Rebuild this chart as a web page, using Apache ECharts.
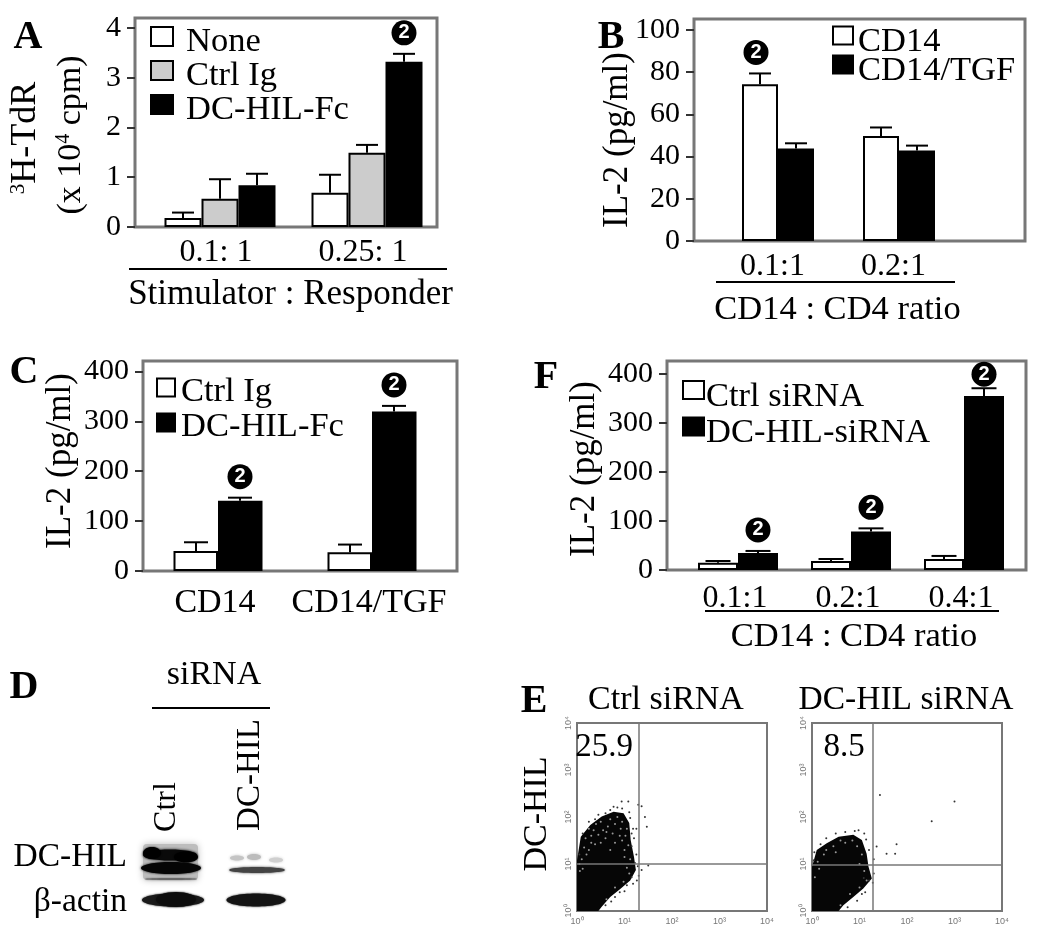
<!DOCTYPE html>
<html><head><meta charset="utf-8">
<style>html,body{margin:0;padding:0;background:#fff}#c{width:1050px;height:933px}</style>
<script src="https://cdn.jsdelivr.net/npm/echarts@6/dist/echarts.min.js"></script>
</head><body><div id="c"></div>
<script>
// ---------- Panel A ----------
const catsA = ['0.1: 1', '0.25: 1'];
const yTicksA = [0, 1, 2, 3, 4];
const noneA = [0.18, 0.69];
const noneTopA = [0.29, 1.05];
const ctrlA = [0.57, 1.49];
const ctrlTopA = [0.96, 1.65];
const dcA = [0.84, 3.32];
const dcTopA = [1.07, 3.48];
// ---------- Panel B ----------
const catsB = ['0.1:1', '0.2:1'];
const yTicksB = [0, 20, 40, 60, 80, 100];
const cd14B = [74.3, 49.8];
const cd14TopB = [79.4, 53.8];
const tgfB = [43.8, 42.9];
const tgfTopB = [46.3, 45.2];
// ---------- Panel C ----------
const catsC = ['CD14', 'CD14/TGF'];
const yTicksC = [0, 100, 200, 300, 400];
const ctrlC = [40, 37.5];
const ctrlTopC = [57.6, 53];
const dcC = [141, 320];
const dcTopC = [147, 331];
// ---------- Panel F ----------
const catsF = ['0.1:1', '0.2:1', '0.4:1'];
const yTicksF = [0, 100, 200, 300, 400];
const ctrlF = [15, 18.4, 22.5];
const ctrlTopF = [18.4, 22.5, 28.7];
const dcF = [34.8, 78.5, 355];
const dcTopF = [38.9, 85, 371];
// ---------- Panel E (flow plots, log10 intensity) ----------
const flowTicks = ['10⁰', '10¹', '10²', '10³', '10⁴'];
const ctrlOuter = [[0,0],[0,1.08],[0.08,1.58],[0.28,1.83],[0.52,2.01],[0.77,2.11],[0.98,2.08],[1.10,1.87],[1.13,1.51],[1.20,1.15],[1.24,0.87],[1.12,0.65],[0.91,0.47],[0.70,0.30],[0.52,0.09],[0.45,0]];
const ctrlStray = [[1.29,2.26],[1.36,2.23],[1.43,2.0],[1.47,1.79],[1.36,0.87],[1.5,0.97],[1.26,0.65],[1.08,2.33],[0.94,2.33],[0.77,2.22],[1.12,1.98],[1.2,1.55],[1.18,1.75],[0.95,2.18],[0.7,2.15],[0.45,2.05],[0.25,1.9],[0.12,1.65],[1.25,1.2],[1.28,0.95],[1.18,0.58],[1.0,0.42],[0.8,0.3],[0.6,0.12],[0.85,2.2],[1.15,1.38],[1.1,2.1],[1.25,1.75],[1.3,0.75],[0.05,1.2],[0.38,1.95],[0.6,2.08],[1.15,1.65],[1.05,0.55],[0.9,0.4],[0.72,0.2],[1.22,1.02],[1.15,0.72]];
const ctrlHoles = [[0.3,1.45],[0.45,1.62],[0.6,1.55],[0.75,1.65],[0.9,1.6],[0.2,1.2],[0.5,1.45],[0.8,1.45],[1.0,1.3],[0.12,0.9],[0.25,1.75],[0.95,1.9],[1.05,0.92],[0.3,1.6],[0.65,1.8],[0.15,1.35],[0.06,0.85],[0.55,1.72],[0.92,1.75],[1.02,1.6],[0.4,1.85],[0.7,1.95],[0.85,2.0],[1.05,1.75],[1.08,1.4],[0.18,1.55],[0.38,1.42],[1.12,1.1],[1.1,0.8],[0.98,0.62],[0.8,0.5],[0.62,0.25],[0.1,1.1],[0.25,1.3],[0.7,1.3],[0.5,1.9],[0.8,1.85],[0.95,1.5],[1.0,1.15],[0.05,1.0],[0.62,1.68],[0.35,1.72]];
const dcOuter = [[0,0],[0,0.94],[0.10,1.30],[0.31,1.44],[0.56,1.58],[0.87,1.62],[1.05,1.51],[1.15,1.22],[1.19,0.94],[1.26,0.69],[1.08,0.48],[0.87,0.30],[0.66,0.12],[0.56,0]];
const dcStray = [[1.09,0.7],[1.2,0.65],[1.3,1.1],[1.78,1.42],[1.43,2.47],[3.0,2.33],[2.52,1.91],[1.36,1.37],[1.57,1.22],[1.75,1.22],[0.05,1.25],[0.18,1.42],[1.2,1.3],[1.14,1.52],[1.1,1.65],[0.9,1.7],[0.7,1.68],[0.5,1.65],[0.3,1.55],[1.3,0.8],[1.28,0.6],[1.12,0.4],[0.95,0.22],[0.75,0.08],[1.05,0.36],[0.04,1.08],[0.98,1.72]];
const dcHoles = [[0.25,1.2],[0.12,1.05],[0.45,1.38],[0.7,1.45],[0.95,1.38],[1.05,1.2],[0.06,0.72],[1.1,0.85],[1.15,0.65],[0.6,1.5],[0.85,1.5],[0.3,1.3],[1.0,0.5],[0.8,0.36],[0.6,0.12],[0.15,0.9],[0.5,1.25],[1.0,1.0]];

const SERIF = '"Liberation Serif", "Times New Roman", serif';
const grid = [], xAxis = [], yAxis = [], legend = [], series = [], graphic = [];
const FRAME = '#777', TICK = '#333';

function txt(text, x, y, size, opt) {
  opt = opt || {};
  graphic.push({
    type: 'text', x: x, y: y, rotation: opt.rot || 0, z: 50,
    style: { text: text, fill: '#000', align: opt.align || 'center', verticalAlign: 'middle',
      font: (opt.bold ? 'bold ' : '') + size + 'px ' + SERIF, rich: opt.rich }
  });
}
function rule(x1, x2, y) {
  graphic.push({ type: 'line', shape: { x1: x1, y1: y, x2: x2, y2: y }, style: { stroke: '#000', lineWidth: 2 }, z: 50 });
}

function barPanel(p) {
  const g = grid.length, n = p.bars.length;
  const slot = p.centers[1] - p.centers[0];
  const left = p.centers[0] - slot / 2, width = slot * p.cats.length;
  const ls = p.labelShift, ns = p.nameShift || 0;
  grid.push({ left: left, top: p.frame[1], width: width, height: p.frame[3] - p.frame[1] });
  graphic.push({ type: 'rect', shape: { x: p.frame[0], y: p.frame[1], width: p.frame[2] - p.frame[0], height: p.frame[3] - p.frame[1] },
    style: { fill: 'none', stroke: FRAME, lineWidth: 3 }, z: -1 });
  xAxis.push({ gridIndex: g, type: 'category', data: p.cats, axisLine: { show: false }, axisTick: { show: false }, position: 'bottom',
    axisLabel: { margin: p.labelMargin, fontFamily: SERIF, fontSize: p.labelSize || 32, color: '#000', interval: 0, padding: [0, -2 * ls, 0, 0] },
    name: p.xName, nameLocation: 'middle', nameGap: p.nameGap,
    nameTextStyle: { fontFamily: SERIF, fontSize: p.nameSize || 34.5, color: '#000', padding: ns < 0 ? [0, -2 * ns, 0, 0] : [0, 0, 0, 2 * ns] } });
  yAxis.push({ gridIndex: g, type: 'value', min: 0, max: p.yMax, offset: left - p.frame[0], position: 'left', splitLine: { show: false }, axisLine: { show: false },
    axisTick: { show: true, length: 8, lineStyle: { color: TICK, width: 2 }, customValues: p.yTicks },
    axisLabel: { margin: 14, fontFamily: SERIF, fontSize: 30, color: '#000', customValues: p.yTicks } });
  legend.push({ left: p.legendAt[0], top: p.legendAt[1], orient: 'vertical', selectedMode: false, padding: 0, itemGap: p.legendGap,
    itemWidth: p.swatch[0], itemHeight: p.swatch[1],
    formatter: (name) => '{a|' + name + '}',
    textStyle: { fontFamily: SERIF, fontSize: 34.5, color: '#000',
      rich: { a: { fontFamily: SERIF, fontSize: 34.5, color: '#000', lineHeight: 36, padding: p.legendPad } } },
    data: p.bars.map(b => ({ name: b.name, icon: 'rect', itemStyle: { color: b.color, borderColor: '#000', borderWidth: 2 } })) });
  p.bars.forEach((b, i) => {
    series.push({ type: 'bar', name: b.name, xAxisIndex: g, yAxisIndex: g, data: b.values, barWidth: p.barWidth, barGap: '0%', z: 3,
      itemStyle: { color: b.color, borderColor: '#000', borderWidth: 2 }, silent: true });
    const shift = (i - (n - 1) / 2) * p.barWidth;
    series.push({ type: 'custom', xAxisIndex: g, yAxisIndex: g, z: 2, silent: true, clip: false,
      data: b.values.map((v, k) => [k, v, b.tops[k], (b.marks || [])[k] ? 1 : 0]),
      renderItem: (params, api) => {
        const k = api.value(0);
        const base = api.coord([k, api.value(1)]), top = api.coord([k, api.value(2)]);
        const x = Math.round(base[0] + shift), ks = [
          { type: 'line', shape: { x1: x, y1: base[1], x2: x, y2: top[1] }, style: { stroke: '#000', lineWidth: 2 } },
          { type: 'line', shape: { x1: x - p.cap / 2, y1: top[1], x2: x + p.cap / 2, y2: top[1] }, style: { stroke: '#000', lineWidth: 2 } }
        ];
        if (api.value(3)) {
          const lift = (b.lift && b.lift[k]) || 21, bx = x + (p.badgeDx || 0);
          ks.push({ type: 'circle', z2: 10, shape: { cx: bx, cy: top[1] - lift, r: 12.5 }, style: { fill: '#000' } });
          ks.push({ type: 'text', z2: 11, x: bx, y: top[1] - lift, style: { text: '2', fill: '#fff', align: 'center', verticalAlign: 'middle', font: 'bold 20px "Liberation Sans", sans-serif' } });
        }
        return { type: 'group', children: ks };
      } });
  });
}

barPanel({ frame: [135, 18, 437, 227], centers: [220, 367], cats: catsA, yTicks: yTicksA, yMax: 4.2, barWidth: 37, cap: 22,
  bars: [ { name: 'None', color: '#fff', values: noneA, tops: noneTopA },
          { name: 'Ctrl Ig', color: '#ccc', values: ctrlA, tops: ctrlTopA },
          { name: 'DC-HIL-Fc', color: '#000', values: dcA, tops: dcTopA, marks: [0, 1] } ],
  labelMargin: 10, labelShift: -4, xName: 'Stimulator : Responder', nameGap: 50, nameShift: -3, nameSize: 35,
  legendAt: [150, 14], legendGap: -11, swatch: [22, 19], legendPad: [10, 0, 0, 8] });

barPanel({ frame: [694, 19, 1025, 241], centers: [778, 899], cats: catsB, yTicks: yTicksB, yMax: 105.2, barWidth: 36, cap: 22, badgeDx: -4,
  bars: [ { name: 'CD14', color: '#fff', values: cd14B, tops: cd14TopB, marks: [1, 0] },
          { name: 'CD14/TGF', color: '#000', values: tgfB, tops: tgfTopB } ],
  labelMargin: 10, labelShift: -5.5, xName: 'CD14 : CD4 ratio', nameGap: 51, nameShift: -1,
  legendAt: [832, 12], legendGap: -18, swatch: [20, 18], legendPad: [12, 0, 0, 0] });

barPanel({ frame: [143, 361, 457, 571], centers: [218, 372], cats: catsC, yTicks: yTicksC, yMax: 421, barWidth: 44.5, cap: 24,
  bars: [ { name: 'Ctrl Ig', color: '#fff', values: ctrlC, tops: ctrlTopC },
          { name: 'DC-HIL-Fc', color: '#000', values: dcC, tops: dcTopC, marks: [1, 1] } ],
  labelMargin: 15, labelSize: 34, labelShift: -3, xName: '', nameGap: 60,
  legendAt: [156, 366], legendGap: -8, swatch: [18, 18], legendPad: [8, 0, 0, 1] });

barPanel({ frame: [667, 361, 1026, 570], centers: [738, 851], cats: catsF, yTicks: yTicksF, yMax: 426.6, barWidth: 40, cap: 25,
  bars: [ { name: 'Ctrl siRNA', color: '#fff', values: ctrlF, tops: ctrlTopF },
          { name: 'DC-HIL-siRNA', color: '#000', values: dcF, tops: dcTopF, marks: [1, 1, 1], lift: [21, 21, 14] } ],
  labelMargin: 13, labelShift: -3, xName: 'CD14 : CD4 ratio', nameGap: 49, nameShift: 3,
  legendAt: [682, 366], legendGap: -11.5, swatch: [21, 18], legendPad: [13, 0, 0, -3] });

function flowPanel(left, outer, stray, holes, qx, qy) {
  const g = grid.length;
  grid.push({ left: left, top: 723, width: 190, height: 188, show: true, borderColor: FRAME, borderWidth: 2 });
  const tickFmt = (v) => flowTicks[Math.round(v)];
  const labelBase = { fontSize: 9, color: '#777', fontFamily: '"Liberation Sans", sans-serif', formatter: tickFmt };
  xAxis.push({ gridIndex: g, type: 'value', min: 0, max: 4, interval: 1, splitLine: { show: false }, axisLine: { show: false }, axisTick: { show: false },
    axisLabel: Object.assign({ margin: 6 }, labelBase) });
  yAxis.push({ gridIndex: g, type: 'value', min: 0, max: 4, interval: 1, splitLine: { show: false }, axisLine: { show: false }, axisTick: { show: false },
    axisLabel: Object.assign({ margin: 4, rotate: 90 }, labelBase) });
  series.push({ type: 'custom', xAxisIndex: g, yAxisIndex: g, z: 2, silent: true, data: outer,
    renderItem: (params, api) => params.dataIndex === 0
      ? { type: 'polygon', shape: { points: outer.map(q => api.coord(q)) }, style: { fill: '#060606' } } : null });
  series.push({ type: 'scatter', xAxisIndex: g, yAxisIndex: g, data: holes, silent: true, z: 4, symbolSize: 2, itemStyle: { color: '#999', opacity: 1 } });
  series.push({ type: 'scatter', xAxisIndex: g, yAxisIndex: g, data: stray, silent: true, z: 4, symbolSize: 2, itemStyle: { color: '#333', opacity: 1 },
    markLine: { silent: true, symbol: 'none', animation: false, label: { show: false }, lineStyle: { color: FRAME, width: 1.5, type: 'solid' },
      data: [{ xAxis: qx }, { yAxis: qy }] } });
}
flowPanel(577, ctrlOuter, ctrlStray, ctrlHoles, 1.29, 0.996);
flowPanel(812, dcOuter, dcStray, dcHoles, 1.27, 0.99);

// Panel letters
txt('A', 28, 38, 40, { bold: true });
txt('B', 611, 38, 40, { bold: true });
txt('C', 24, 373, 40, { bold: true });
txt('F', 546, 378, 40, { bold: true });
txt('D', 24, 688, 40, { bold: true });
txt('E', 534, 702, 40, { bold: true });

// Axis titles and group rules
const R = Math.PI / 2;
txt('{s|3}H-TdR', 26, 138, 36, { rot: R, rich: { s: { fontSize: 21, fontFamily: SERIF, verticalAlign: 'top', fill: '#000' } } });
txt('(x 10{s|4} cpm)', 71, 135, 34, { rot: R, rich: { s: { fontSize: 20, fontFamily: SERIF, verticalAlign: 'top', fill: '#000' } } });
txt('IL-2 (pg/ml)', 618, 140, 35, { rot: R });
txt('IL-2 (pg/ml)', 61, 461, 35, { rot: R });
txt('IL-2 (pg/ml)', 585, 469, 35, { rot: R });
rule(129, 447, 269);
rule(716, 955, 282);
rule(705, 999, 611);

// Panel D text
txt('siRNA', 214, 675, 34);
rule(152, 270, 708);
txt('Ctrl', 167, 807, 32, { rot: R });
txt('DC-HIL', 250, 775, 33, { rot: R });
txt('DC-HIL', 127, 857, 33.5, { align: 'right' });
txt('β-actin', 127, 902, 33.5, { align: 'right' });

// Panel E text
txt('Ctrl siRNA', 666, 700, 34);
txt('DC-HIL siRNA', 906, 700, 33.5);
txt('25.9', 604, 747, 33);
txt('8.5', 844, 747, 33);
txt('DC-HIL', 537, 814, 34, { rot: R });

// Western blot bands (illustration, no axes)
function band(cx, cy, rx, ry, color, blur, rot) {
  graphic.push({ type: 'ellipse', x: cx, y: cy, rotation: rot || 0, shape: { cx: 0, cy: 0, rx: rx, ry: ry }, style: { fill: color, shadowBlur: blur, shadowColor: color }, z: 5 });
}
graphic.push({ type: 'rect', shape: { x: 143, y: 844, width: 55, height: 36, r: 4 }, style: { fill: '#bdbdbd', shadowBlur: 7, shadowColor: '#bdbdbd' }, z: 4 });
band(170, 855, 27, 5.5, '#0a0a0a', 3);
band(152, 853, 9, 6, '#000', 2);
band(186, 857, 12, 5.5, '#000', 2);
band(171, 868, 30, 6, '#050505', 2.5);
band(171, 879, 26, 1, '#666', 2);
band(173, 900, 31, 6.5, '#1a1a1a', 2);
band(176, 899.5, 20, 7.5, '#0d0d0d', 2);
band(237, 858, 7, 2.5, '#c4c4c4', 3);
band(254, 857, 7, 3, '#bcbcbc', 3);
band(276, 860, 7, 2.5, '#cfcfcf', 3);
band(257, 870, 28, 3, '#444', 2.5);
band(256, 900, 29.5, 6.5, '#141414', 2);

const chart = echarts.init(document.getElementById('c'), null, { renderer: 'canvas' });
chart.setOption({ animation: false, backgroundColor: '#fff', grid, xAxis, yAxis, legend, series, graphic, tooltip: { show: false } });
</script></body></html>
